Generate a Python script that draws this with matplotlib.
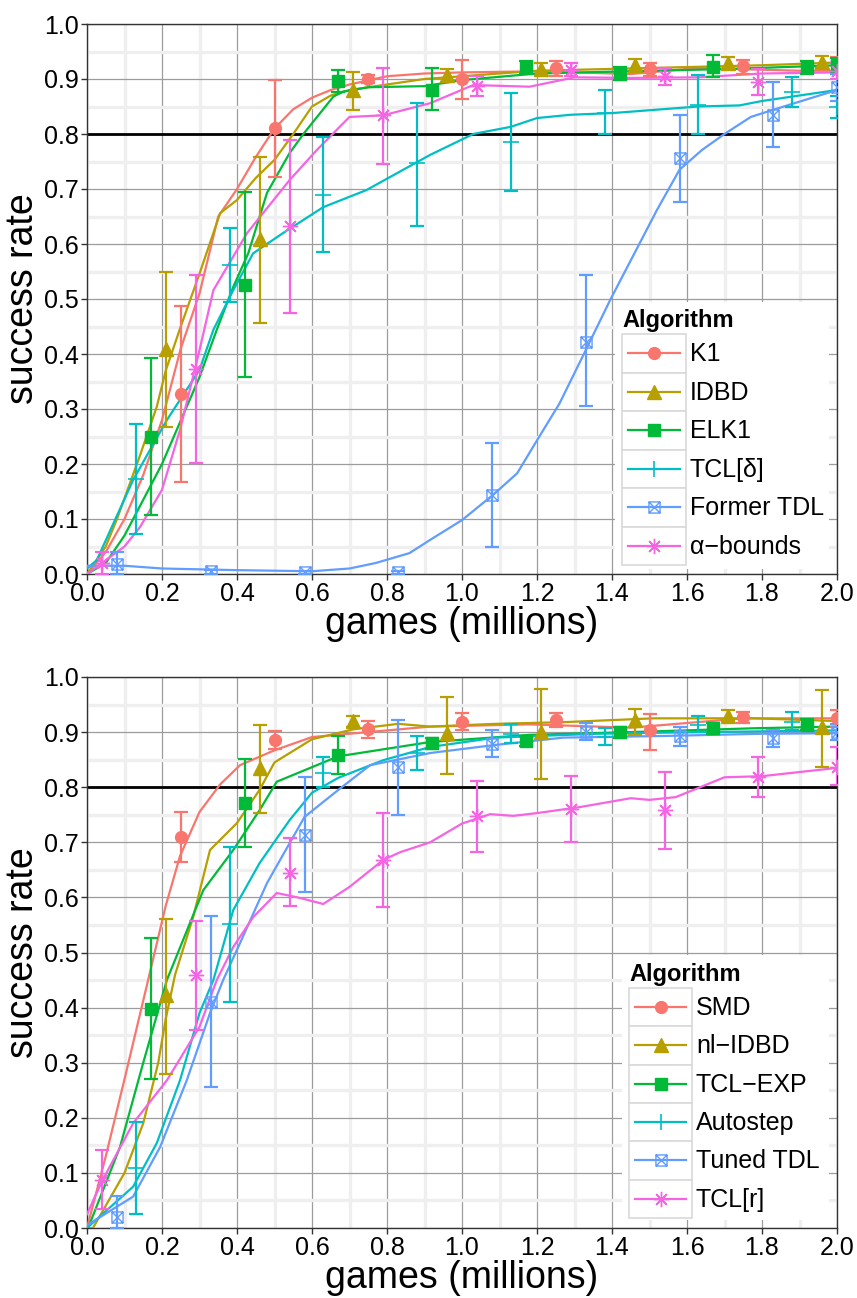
#!/usr/bin/env python3

## learning curves for the step-size algorithms, two panels
import matplotlib
matplotlib.use("Agg")
import matplotlib.pyplot as plt
from matplotlib.path import Path
from matplotlib.patches import Rectangle
from matplotlib.lines import Line2D

plt.rcParams['font.family'] = ['Liberation Sans', 'DejaVu Sans']

W, H = 857, 1298

COLORS = ['#F8766D', '#B79F00', '#00BA38', '#00BFC4', '#619CFF', '#F564E3']

# square with a cross through it (ggplot shape 7)
BOXX = Path([(-1, -1), (1, -1), (1, 1), (-1, 1), (-1, -1), (1, 1), (-1, 1), (1, -1)],
            [Path.MOVETO, Path.LINETO, Path.LINETO, Path.LINETO, Path.LINETO,
             Path.LINETO, Path.MOVETO, Path.LINETO])

MARKERS = [
    dict(marker='o', ms=8.5),
    dict(marker='^', ms=9.5),
    dict(marker='s', ms=8.5),
    dict(marker='+', ms=12, mew=1.2),
    dict(marker=BOXX, ms=8, mfc='none', mew=1.0),
    dict(marker=(8, 2, 0), ms=11, mew=1.0),
]

## top panel data
TOP_LABELS = ['K1', 'IDBD', 'ELK1', 'TCL[\u03b4]', 'Former TDL', '\u03b1\u2212bounds']

k1_x  = [0.25, 0.5, 0.75, 1.0, 1.25, 1.5, 1.75, 2.0]
k1_y  = [0.327, 0.81, 0.90, 0.90, 0.92, 0.918, 0.923, 0.925]
k1_lo = [0.168, 0.722, 0.893, 0.864, 0.905, 0.905, 0.91, 0.91]
k1_hi = [0.487, 0.898, 0.907, 0.935, 0.932, 0.93, 0.935, 0.94]
k1_lx = [0, 0.05, 0.1, 0.15, 0.2, 0.25, 0.3, 0.35, 0.4, 0.45, 0.5, 0.55, 0.6, 0.65, 0.7, 0.8,
         0.9, 1.0, 1.2, 1.45, 1.63, 1.9, 2.0]
k1_ly = [0.0, 0.04, 0.1, 0.18, 0.28, 0.41, 0.51, 0.65, 0.70, 0.758, 0.81, 0.845, 0.866, 0.88,
         0.89, 0.905, 0.91, 0.912, 0.914, 0.909, 0.92, 0.915, 0.915]

idbd_x  = [0.21, 0.46, 0.71, 0.96, 1.21, 1.46, 1.71, 1.96]
idbd_y  = [0.41, 0.61, 0.88, 0.907, 0.918, 0.925, 0.929, 0.931]
idbd_lo = [0.268, 0.456, 0.844, 0.895, 0.905, 0.912, 0.918, 0.92]
idbd_hi = [0.55, 0.759, 0.912, 0.918, 0.93, 0.937, 0.94, 0.942]
idbd_lx = [0, 0.05, 0.08, 0.14, 0.186, 0.21, 0.25, 0.3, 0.355, 0.4, 0.45, 0.5, 0.55, 0.6, 0.65,
           0.7, 0.8, 0.9, 1.0, 1.2, 1.5, 1.8, 2.0]
idbd_ly = [0.0, 0.05, 0.10, 0.213, 0.304, 0.37, 0.45, 0.546, 0.656, 0.68, 0.72, 0.753, 0.80,
           0.85, 0.87, 0.88, 0.89, 0.90, 0.905, 0.915, 0.92, 0.925, 0.93]

elk1_x  = [0.17, 0.42, 0.67, 0.92, 1.17, 1.42, 1.67, 1.92, 2.0]
elk1_y  = [0.25, 0.525, 0.896, 0.88, 0.922, 0.91, 0.922, 0.922, 0.925]
elk1_lo = [0.108, 0.358, 0.876, 0.844, 0.91, 0.898, 0.904, 0.91, 0.912]
elk1_hi = [0.393, 0.695, 0.916, 0.92, 0.932, 0.922, 0.944, 0.932, 0.938]
elk1_lx = [0, 0.05, 0.1, 0.2, 0.3, 0.346, 0.39, 0.43, 0.48, 0.54, 0.577, 0.657, 0.683, 0.75,
           0.9, 1.0, 1.2, 1.5, 1.7, 2.0]
elk1_ly = [0.0, 0.02, 0.07, 0.2, 0.358, 0.444, 0.522, 0.583, 0.693, 0.765, 0.80, 0.868, 0.877,
           0.885, 0.887, 0.898, 0.91, 0.915, 0.918, 0.925]

tcld_x  = [0.13, 0.38, 0.63, 0.88, 1.13, 1.38, 1.63, 1.88, 2.0]
tcld_y  = [0.173, 0.562, 0.69, 0.747, 0.785, 0.838, 0.853, 0.877, 0.85]
tcld_lo = [0.073, 0.494, 0.585, 0.633, 0.696, 0.80, 0.80, 0.849, 0.829]
tcld_hi = [0.273, 0.63, 0.795, 0.856, 0.874, 0.88, 0.907, 0.904, 0.87]
tcld_lx = [0, 0.026, 0.123, 0.213, 0.3, 0.337, 0.39, 0.443, 0.523, 0.63, 0.745, 0.915, 1.03,
           1.13, 1.2, 1.29, 1.4, 1.63, 1.74, 1.8, 2.0]
tcld_ly = [0.01, 0.025, 0.171, 0.28, 0.371, 0.444, 0.516, 0.583, 0.62, 0.667, 0.698, 0.762,
           0.80, 0.813, 0.829, 0.835, 0.838, 0.85, 0.852, 0.86, 0.88]

ftdl_x  = [0.08, 0.33, 0.58, 0.83, 1.08, 1.33, 1.58, 1.83, 2.0]
ftdl_y  = [0.018, 0.005, 0.003, 0.003, 0.144, 0.422, 0.756, 0.835, 0.885]
ftdl_lo = [0.0, 0.0, 0.0, 0.0, 0.049, 0.305, 0.677, 0.777, 0.86]
ftdl_hi = [0.04, 0.008, 0.006, 0.006, 0.238, 0.543, 0.835, 0.895, 0.91]
ftdl_lx = [0, 0.1, 0.2, 0.4, 0.6, 0.7, 0.77, 0.86, 0.915, 1.0, 1.083, 1.147, 1.2, 1.26, 1.33,
           1.395, 1.52, 1.58, 1.64, 1.70, 1.77, 1.83, 2.0]
ftdl_ly = [0.015, 0.015, 0.01, 0.007, 0.005, 0.01, 0.02, 0.038, 0.062, 0.098, 0.144, 0.183,
           0.243, 0.31, 0.407, 0.498, 0.662, 0.735, 0.771, 0.80, 0.831, 0.844, 0.88]

alpha_x  = [0.04, 0.29, 0.54, 0.79, 1.04, 1.29, 1.54, 1.79, 2.0]
alpha_y  = [0.02, 0.373, 0.633, 0.834, 0.887, 0.916, 0.905, 0.895, 0.915]
alpha_lo = [0.0, 0.201, 0.474, 0.745, 0.87, 0.905, 0.89, 0.871, 0.9]
alpha_hi = [0.04, 0.544, 0.79, 0.92, 0.905, 0.93, 0.92, 0.918, 0.93]
alpha_lx = [0, 0.04, 0.1, 0.141, 0.2, 0.248, 0.3, 0.337, 0.427, 0.54, 0.613, 0.70, 0.79, 0.915,
            1.03, 1.18, 1.30, 1.45, 1.63, 1.8, 2.0]
alpha_ly = [0.0, 0.02, 0.05, 0.085, 0.153, 0.262, 0.407, 0.516, 0.62, 0.716, 0.771, 0.831,
            0.834, 0.856, 0.889, 0.886, 0.903, 0.902, 0.903, 0.91, 0.912]

## bottom panel data
BOT_LABELS = ['SMD', 'nl\u2212IDBD', 'TCL\u2212EXP', 'Autostep', 'Tuned TDL', 'TCL[r]']

smd_x  = [0.25, 0.5, 0.75, 1.0, 1.25, 1.5, 1.75, 2.0]
smd_y  = [0.71, 0.886, 0.905, 0.918, 0.922, 0.904, 0.927, 0.925]
smd_lo = [0.664, 0.87, 0.89, 0.903, 0.91, 0.868, 0.917, 0.91]
smd_hi = [0.755, 0.902, 0.92, 0.935, 0.935, 0.932, 0.937, 0.94]
smd_lx = [0, 0.05, 0.1, 0.163, 0.21, 0.248, 0.30, 0.355, 0.408, 0.5, 0.6, 0.75, 0.915, 1.18,
          1.45, 1.75, 2.0]
smd_ly = [0.0, 0.13, 0.27, 0.45, 0.585, 0.675, 0.755, 0.805, 0.84, 0.867, 0.891, 0.90, 0.91,
          0.914, 0.908, 0.925, 0.925]

nlidbd_x  = [0.21, 0.46, 0.71, 0.96, 1.21, 1.46, 1.71, 1.96]
nlidbd_y  = [0.422, 0.835, 0.92, 0.898, 0.90, 0.922, 0.93, 0.91]
nlidbd_lo = [0.28, 0.753, 0.91, 0.824, 0.815, 0.895, 0.92, 0.836]
nlidbd_hi = [0.561, 0.913, 0.93, 0.964, 0.978, 0.942, 0.94, 0.977]
nlidbd_lx = [0, 0.016, 0.1, 0.15, 0.19, 0.21, 0.235, 0.283, 0.328, 0.4, 0.46, 0.5, 0.6, 0.71,
             0.83, 0.915, 1.09, 1.27, 1.51, 1.78, 2.0]
nlidbd_ly = [0.0, 0.0, 0.1, 0.19, 0.3, 0.38, 0.46, 0.564, 0.686, 0.735, 0.795, 0.845, 0.887,
             0.905, 0.915, 0.91, 0.915, 0.918, 0.925, 0.925, 0.92]

tclexp_x  = [0.17, 0.42, 0.67, 0.92, 1.17, 1.42, 1.67, 1.92]
tclexp_y  = [0.397, 0.771, 0.858, 0.88, 0.884, 0.90, 0.907, 0.913]
tclexp_lo = [0.27, 0.691, 0.824, 0.87, 0.875, 0.89, 0.897, 0.903]
tclexp_hi = [0.526, 0.851, 0.893, 0.89, 0.893, 0.91, 0.917, 0.923]
tclexp_lx = [0, 0.003, 0.088, 0.15, 0.213, 0.31, 0.39, 0.46, 0.506, 0.67, 0.915, 1.18, 1.45,
             1.78, 2.0]
tclexp_ly = [0.0, 0.0, 0.147, 0.30, 0.45, 0.613, 0.686, 0.758, 0.81, 0.856, 0.882, 0.895, 0.90,
             0.907, 0.91]

auto_x  = [0.13, 0.38, 0.63, 0.88, 1.13, 1.38, 1.63, 1.88]
auto_y  = [0.108, 0.552, 0.826, 0.862, 0.897, 0.892, 0.913, 0.918]
auto_lo = [0.025, 0.41, 0.80, 0.831, 0.88, 0.877, 0.90, 0.904]
auto_hi = [0.192, 0.691, 0.855, 0.893, 0.914, 0.908, 0.93, 0.936]
auto_lx = [0, 0.123, 0.186, 0.248, 0.3, 0.337, 0.39, 0.46, 0.54, 0.6, 0.67, 0.79, 0.915, 1.09,
           1.36, 1.63, 2.0]
auto_ly = [0.0, 0.075, 0.154, 0.268, 0.39, 0.45, 0.577, 0.662, 0.74, 0.79, 0.817, 0.849, 0.873,
           0.89, 0.897, 0.90, 0.903]

tuned_x  = [0.08, 0.33, 0.58, 0.83, 1.08, 1.33, 1.58, 1.83, 2.0]
tuned_y  = [0.02, 0.41, 0.713, 0.837, 0.878, 0.90, 0.893, 0.889, 0.9]
tuned_lo = [0.0, 0.256, 0.61, 0.75, 0.855, 0.885, 0.875, 0.873, 0.885]
tuned_hi = [0.058, 0.566, 0.818, 0.922, 0.904, 0.917, 0.91, 0.904, 0.915]
tuned_lx = [0, 0.123, 0.195, 0.266, 0.328, 0.363, 0.408, 0.48, 0.58, 0.67, 0.755, 0.915, 1.08,
            1.27, 1.54, 1.8, 2.0]
tuned_ly = [0.005, 0.057, 0.147, 0.268, 0.39, 0.45, 0.517, 0.626, 0.746, 0.795, 0.84, 0.862,
            0.876, 0.89, 0.893, 0.897, 0.898]

tclr_x  = [0.04, 0.29, 0.54, 0.79, 1.04, 1.29, 1.54, 1.79, 2.0]
tclr_y  = [0.088, 0.459, 0.645, 0.668, 0.748, 0.76, 0.758, 0.818, 0.837]
tclr_lo = [0.034, 0.359, 0.584, 0.583, 0.682, 0.70, 0.687, 0.783, 0.804]
tclr_hi = [0.141, 0.557, 0.708, 0.753, 0.811, 0.82, 0.828, 0.854, 0.873]
tclr_lx = [0, 0.04, 0.123, 0.213, 0.3, 0.346, 0.39, 0.443, 0.506, 0.568, 0.63, 0.70, 0.79, 0.835,
           0.915, 1.0, 1.075, 1.137, 1.2, 1.315, 1.45, 1.5, 1.57, 1.7, 1.8, 2.0]
tclr_ly = [0.025, 0.085, 0.19, 0.268, 0.365, 0.45, 0.51, 0.564, 0.608, 0.599, 0.588, 0.619,
           0.668, 0.682, 0.70, 0.734, 0.751, 0.748, 0.753, 0.764, 0.78, 0.777, 0.782, 0.818,
           0.82, 0.835]

TOP = [(k1_lx, k1_ly, k1_x, k1_y, k1_lo, k1_hi),
       (idbd_lx, idbd_ly, idbd_x, idbd_y, idbd_lo, idbd_hi),
       (elk1_lx, elk1_ly, elk1_x, elk1_y, elk1_lo, elk1_hi),
       (tcld_lx, tcld_ly, tcld_x, tcld_y, tcld_lo, tcld_hi),
       (ftdl_lx, ftdl_ly, ftdl_x, ftdl_y, ftdl_lo, ftdl_hi),
       (alpha_lx, alpha_ly, alpha_x, alpha_y, alpha_lo, alpha_hi)]

BOTTOM = [(smd_lx, smd_ly, smd_x, smd_y, smd_lo, smd_hi),
          (nlidbd_lx, nlidbd_ly, nlidbd_x, nlidbd_y, nlidbd_lo, nlidbd_hi),
          (tclexp_lx, tclexp_ly, tclexp_x, tclexp_y, tclexp_lo, tclexp_hi),
          (auto_lx, auto_ly, auto_x, auto_y, auto_lo, auto_hi),
          (tuned_lx, tuned_ly, tuned_x, tuned_y, tuned_lo, tuned_hi),
          (tclr_lx, tclr_ly, tclr_x, tclr_y, tclr_lo, tclr_hi)]

THRESHOLD = 0.8


def px_axes(fig, left, top, right, bottom):
    return fig.add_axes([left / W, 1 - bottom / H, (right - left) / W, (bottom - top) / H])


def draw_panel(ax, series):
    ax.set_xlim(0, 2.0)
    ax.set_ylim(0, 1.0)
    ax.set_xticks([0.0, 0.2, 0.4, 0.6, 0.8, 1.0, 1.2, 1.4, 1.6, 1.8, 2.0])
    ax.set_xticks([0.1, 0.3, 0.5, 0.7, 0.9, 1.1, 1.3, 1.5, 1.7, 1.9], minor=True)
    ax.set_yticks([i / 10 for i in range(11)])
    ax.set_yticks([i / 20 for i in range(1, 20, 2)], minor=True)
    ax.xaxis.set_major_formatter(lambda v, p: '%.1f' % v)
    ax.yaxis.set_major_formatter(lambda v, p: '%.1f' % v)
    ax.grid(which='minor', color='#efefef', lw=2.4, zorder=0)
    ax.grid(which='major', color='#9c9c9c', lw=0.9, zorder=1)
    ax.set_axisbelow(True)
    ax.tick_params(which='major', direction='out', length=4, width=1, color='#333333',
                   labelsize=18, labelcolor='black', pad=2)
    ax.tick_params(which='minor', length=0)
    for s in ax.spines.values():
        s.set_color('#333333')
        s.set_linewidth(1.0)
    ax.axhline(THRESHOLD, color='black', lw=2.0, zorder=2)
    for (lx, ly, x, y, lo, hi), c, m in zip(series, COLORS, MARKERS):
        ax.plot(lx, ly, color=c, lw=1.6, zorder=3)
        yerr = [[v - l for v, l in zip(y, lo)], [h - v for v, h in zip(y, hi)]]
        ax.errorbar(x, y, yerr=yerr, fmt='none', ecolor=c, elinewidth=1.6, capsize=4.8,
                    capthick=1.6, zorder=4)
        kw = dict(m)
        ax.plot(x, y, ls='none', color=c, mec=c, zorder=5, **kw)
    ax.set_xlabel('games (millions)', fontsize=27, labelpad=0)
    ax.set_ylabel('success rate', fontsize=27, labelpad=2)


def draw_legend(fig, left, top, right, bottom, title, labels, key_x, key_top, key_w, key_h):
    lg = px_axes(fig, left, top, right, bottom)
    lg.set_xlim(left, right)
    lg.set_ylim(bottom, top)
    lg.set_xticks([])
    lg.set_yticks([])
    for s in lg.spines.values():
        s.set_visible(False)
    lg.set_facecolor('white')
    lg.text(key_x, key_top - 13, title, fontsize=17, fontweight='bold', va='center', ha='left')
    for i, (lab, c, m) in enumerate(zip(labels, COLORS, MARKERS)):
        y0 = key_top + i * key_h
        lg.add_patch(Rectangle((key_x, y0), key_w, key_h, facecolor='white',
                               edgecolor='#d9d9d9', lw=1.2))
        cy = y0 + key_h / 2
        lg.add_line(Line2D([key_x + 6, key_x + key_w - 6], [cy, cy], color=c, lw=1.6))
        kw = dict(m)
        lg.plot([key_x + key_w / 2], [cy], ls='none', color=c, mec=c, **kw)
        lg.text(key_x + key_w + 4, cy + 1, lab, fontsize=18, va='center', ha='left')


fig = plt.figure(figsize=(W / 100, H / 100), dpi=100)

ax1 = px_axes(fig, 87, 24, 837, 574)
draw_panel(ax1, TOP)
ax2 = px_axes(fig, 87, 677, 837, 1228)
draw_panel(ax2, BOTTOM)

draw_legend(fig, 615, 302, 829, 569, 'Algorithm', TOP_LABELS, 622, 334, 64, 38.5)
draw_legend(fig, 622, 955, 829, 1220, 'Algorithm', BOT_LABELS, 629, 988, 63, 38.3)

fig.savefig('out.png', dpi=100)
